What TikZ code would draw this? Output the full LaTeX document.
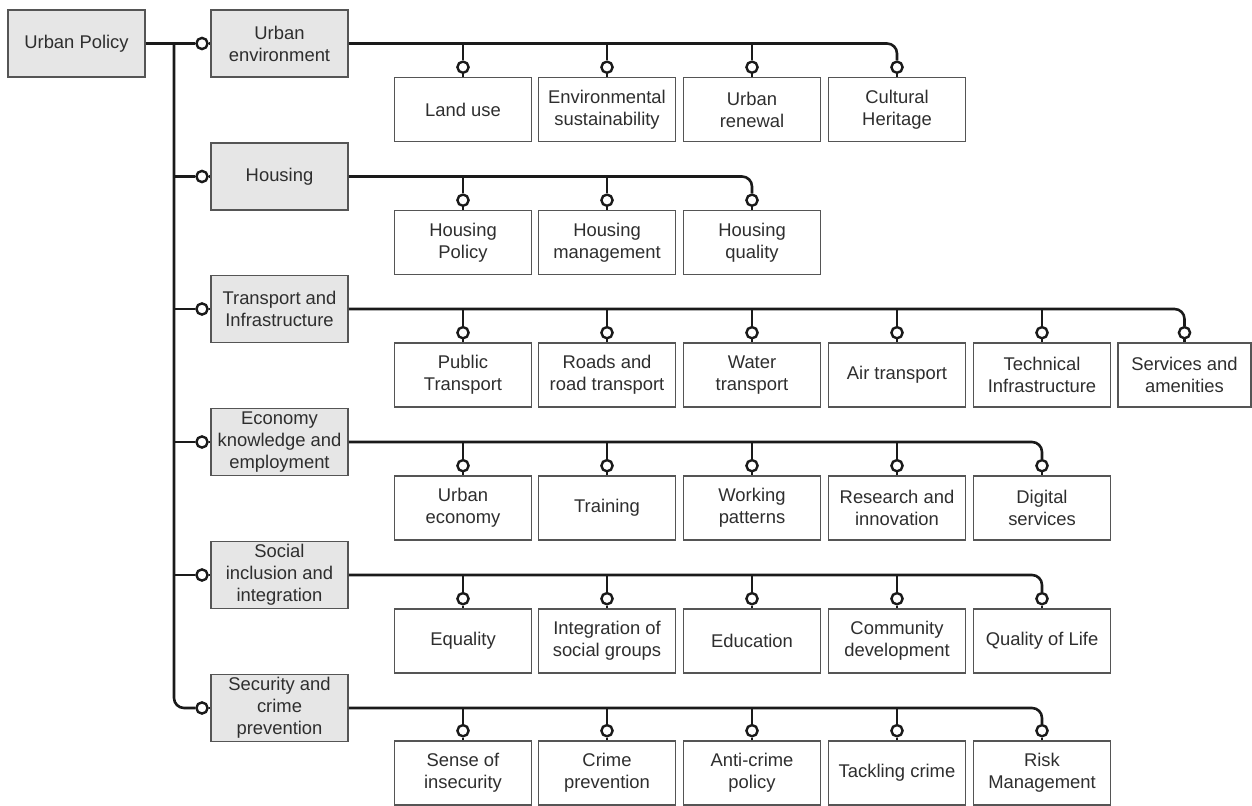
\documentclass[tikz,border=0pt]{standalone}
\usepackage{fontspec}
\setmainfont{Liberation Sans}
\definecolor{catfill}{HTML}{E6E6E6}
\definecolor{boxc}{HTML}{555555}
\definecolor{txt}{HTML}{2E2E2E}
\definecolor{lnc}{HTML}{1A1A1A}
\begin{document}
\begin{tikzpicture}[x=0.5pt,y=-0.5pt,
 box/.style={draw=boxc, line width=0.9pt, rectangle, minimum width=68.5pt, inner sep=1pt, align=center, font=\fontsize{9.2}{11}\selectfont, text=txt},
 catbox/.style={box, fill=catfill, minimum height=33.5pt},
 leafbox/.style={box, fill=white, minimum height=32pt},
 lastbox/.style={leafbox, minimum width=66.5pt},
 dot/.style={circle, draw=lnc, fill=white, line width=1.2pt, inner sep=0pt, minimum size=5.6pt},
 conn/.style={draw=lnc, line width=1.3pt, rounded corners=5pt}]
\useasboundingbox (0,0) rectangle (1252,806);

% root and categories
\node[catbox] (root) at (76.5,43.5) {Urban Policy};
\node[catbox] (k1) at (279.5,43.5) {Urban\\environment};
\node[catbox] (k2) at (279.5,176.5) {Housing};
\node[catbox] (k3) at (279.5,309) {Transport and\\Infrastructure};
\node[catbox] (k4) at (279.5,442) {Economy\\knowledge and\\employment};
\node[catbox] (k5) at (279.5,575) {Social\\inclusion and\\integration};
\node[catbox] (k6) at (279.5,708) {Security and\\crime\\prevention};

\foreach \i in {1,...,6} \node[dot] (d\i) at (202,0 |- k\i) {};
\coordinate (trunk) at (174,43.5);
\draw[conn] (root) -- (d1);
\draw[conn] (trunk) |- (d6);
\foreach \i in {2,...,5} \draw[conn] (trunk |- d\i) -- (d\i);
\foreach \i in {1,...,6} \draw[conn] (d\i) -- (k\i);

% row 1
\node[leafbox] (a1) at (463,109.5) {Land use};
\node[leafbox] (a2) at (607,109.5) {Environmental\\sustainability};
\node[leafbox] (a3) at (752,109.5) {Urban\\renewal};
\node[leafbox] (a4) at (897,109.5) {Cultural\\Heritage};
\foreach \j in {1,...,4} \node[dot] (da\j) at ([yshift=4.7pt]a\j.north) {};
\draw[conn] (k1) -| (da4);
\foreach \j in {1,...,3} \draw[conn] (da\j) -- (da\j |- k1);
\foreach \j in {1,...,4} \draw[conn] (da\j) -- (a\j);

% row 2
\node[leafbox] (b1) at (463,242.5) {Housing\\Policy};
\node[leafbox] (b2) at (607,242.5) {Housing\\management};
\node[leafbox] (b3) at (752,242.5) {Housing\\quality};
\foreach \j in {1,...,3} \node[dot] (db\j) at ([yshift=4.7pt]b\j.north) {};
\draw[conn] (k2) -| (db3);
\foreach \j in {1,2} \draw[conn] (db\j) -- (db\j |- k2);
\foreach \j in {1,...,3} \draw[conn] (db\j) -- (b\j);

% row 3
\node[leafbox] (c1) at (463,375) {Public\\Transport};
\node[leafbox] (c2) at (607,375) {Roads and\\road transport};
\node[leafbox] (c3) at (752,375) {Water\\transport};
\node[leafbox] (c4) at (897,375) {Air transport};
\node[leafbox] (c5) at (1042,375) {Technical\\Infrastructure};
\node[lastbox] (c6) at (1184.5,375) {Services and\\amenities};
\foreach \j in {1,...,6} \node[dot] (dc\j) at ([yshift=4.7pt]c\j.north) {};
\draw[conn] (k3) -| (dc6);
\foreach \j in {1,...,5} \draw[conn] (dc\j) -- (dc\j |- k3);
\foreach \j in {1,...,6} \draw[conn] (dc\j) -- (c\j);

% row 4
\node[leafbox] (e1) at (463,508) {Urban\\economy};
\node[leafbox] (e2) at (607,508) {Training};
\node[leafbox] (e3) at (752,508) {Working\\patterns};
\node[leafbox] (e4) at (897,508) {Research and\\innovation};
\node[leafbox] (e5) at (1042,508) {Digital\\services};
\foreach \j in {1,...,5} \node[dot] (de\j) at ([yshift=4.7pt]e\j.north) {};
\draw[conn] (k4) -| (de5);
\foreach \j in {1,...,4} \draw[conn] (de\j) -- (de\j |- k4);
\foreach \j in {1,...,5} \draw[conn] (de\j) -- (e\j);

% row 5
\node[leafbox] (f1) at (463,641) {Equality};
\node[leafbox] (f2) at (607,641) {Integration of\\social groups};
\node[leafbox] (f3) at (752,641) {Education};
\node[leafbox] (f4) at (897,641) {Community\\development};
\node[leafbox] (f5) at (1042,641) {Quality of Life};
\foreach \j in {1,...,5} \node[dot] (df\j) at ([yshift=4.7pt]f\j.north) {};
\draw[conn] (k5) -| (df5);
\foreach \j in {1,...,4} \draw[conn] (df\j) -- (df\j |- k5);
\foreach \j in {1,...,5} \draw[conn] (df\j) -- (f\j);

% row 6
\node[leafbox] (g1) at (463,773) {Sense of\\insecurity};
\node[leafbox] (g2) at (607,773) {Crime\\prevention};
\node[leafbox] (g3) at (752,773) {Anti-crime\\policy};
\node[leafbox] (g4) at (897,773) {Tackling crime};
\node[leafbox] (g5) at (1042,773) {Risk\\Management};
\foreach \j in {1,...,5} \node[dot] (dg\j) at ([yshift=4.7pt]g\j.north) {};
\draw[conn] (k6) -| (dg5);
\foreach \j in {1,...,4} \draw[conn] (dg\j) -- (dg\j |- k6);
\foreach \j in {1,...,5} \draw[conn] (dg\j) -- (g\j);
\end{tikzpicture}
\end{document}
